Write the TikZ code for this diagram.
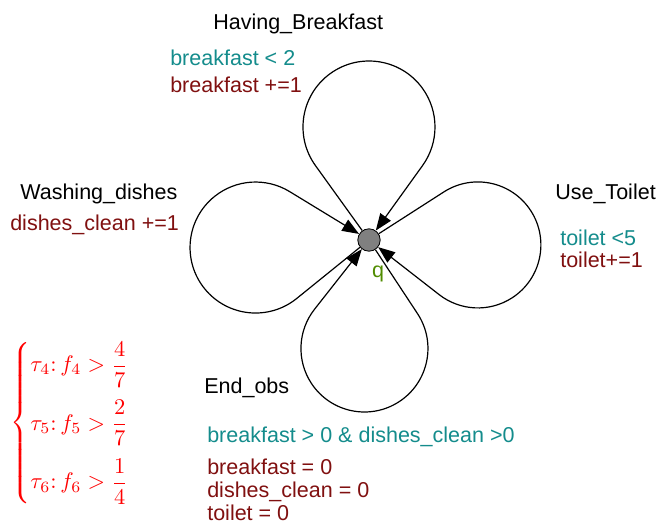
\documentclass[tikz,border=0pt]{standalone}
\usepackage{amsmath}
\usepackage[no-math]{fontspec}
\setmainfont{Liberation Sans}
\usetikzlibrary{arrows.meta}

\definecolor{guardcol}{RGB}{20,140,140}
\definecolor{updatecol}{RGB}{128,16,16}
\definecolor{namecol}{RGB}{80,140,0}
\definecolor{statefill}{RGB}{128,128,128}
\newcommand{\labelfont}{\fontsize{15.3}{18}\selectfont}

\begin{document}
\begin{tikzpicture}[
    x=0.025cm, y=0.025cm,
    state/.style={circle, draw=black, fill=statefill, line width=0.6pt,
                  minimum size=0.56cm, inner sep=0pt},
    looparrow/.style={-{Triangle[length=0.42cm, width=0.32cm]}, line width=0.85pt},
    namestyle/.style={anchor=base west, inner sep=0pt, font=\labelfont, text=black},
    guardstyle/.style={anchor=base west, inner sep=0pt, font=\labelfont, text=guardcol},
    updatestyle/.style={anchor=base west, inner sep=0pt, font=\labelfont, text=updatecol},
    mathstyle/.style={anchor=west, inner sep=0pt, scale=1.6, text=red}
]
\useasboundingbox (0,0) rectangle (660,-525);

% ==================== STATE ====================
\node[state] (q) at (369,-240) {};
\node[anchor=base, inner sep=0pt, font=\labelfont, text=namecol] (q-name) at (378,-278) {q};

% ==================== SELF LOOPS ====================
% Having_Breakfast (top)
\draw[looparrow] (q) -- ++(125.74:91.72) arc[start angle=215.74, delta angle=-251.48, radius=66] -- (q);
% Washing_dishes (left)
\draw[looparrow] (q) -- ++(218.97:92.94) arc[start angle=308.97, delta angle=-250.34, radius=65.5] -- (q);
% Use_Toilet (right)
\draw[looparrow] (q) -- ++(32.71:88.95) arc[start angle=122.71, delta angle=-250.62, radius=63] -- (q);
% End_obs (bottom)
\draw[looparrow] (q) -- ++(303.38:88.10) arc[start angle=33.38, delta angle=-251.56, radius=63.5] -- (q);

% ==================== LABELS ====================
\node[namestyle] (breakfast-name) at (213,-30) {Having\_Breakfast};
\node[guardstyle] (breakfast-guard) at (170,-66) {breakfast < 2};
\node[updatestyle] (breakfast-update) at (170,-93) {breakfast +=1};

\node[namestyle] (dishes-name) at (20,-200) {Washing\_dishes};
\node[updatestyle] (dishes-update) at (10,-231) {dishes\_clean +=1};

\node[namestyle] (toilet-name) at (555,-200) {Use\_Toilet};
\node[guardstyle] (toilet-guard) at (560,-246) {toilet <5};
\node[updatestyle] (toilet-update) at (560,-268) {toilet+=1};

\node[namestyle] (end-name) at (204,-394) {End\_obs};
\node[guardstyle] (end-guard) at (207,-443) {breakfast > 0 \& dishes\_clean >0};
\node[updatestyle] (end-update1) at (207,-475) {breakfast = 0};
\node[updatestyle] (end-update2) at (207,-497) {dishes\_clean = 0};
\node[updatestyle] (end-update3) at (207,-521) {toilet = 0};

% ==================== THRESHOLDS ====================
\node[mathstyle] (thresholds) at (10,-423) {$\begin{cases}
    \tau_4{:}\, f_4 > \dfrac{4}{7}\\[0.85em]
    \tau_5{:}\, f_5 > \dfrac{2}{7}\\[0.85em]
    \tau_6{:}\, f_6 > \dfrac{1}{4}
\end{cases}$};

\end{tikzpicture}
\end{document}
